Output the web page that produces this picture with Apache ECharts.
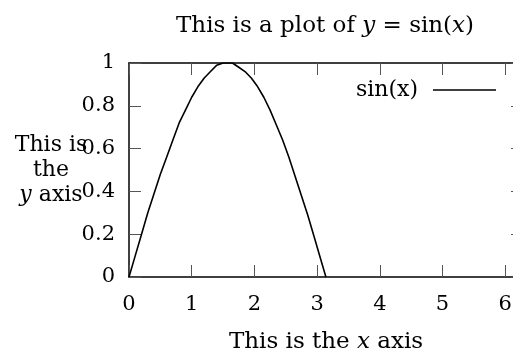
<!DOCTYPE html>
<html>
<head>
    <meta charset="utf-8">
    <title>ECharts</title>
    <script type="text/javascript" src="https://cdn.jsdelivr.net/npm/echarts@6/dist/echarts.min.js"></script>
    <style>
        html, body { margin: 0; padding: 0; background: #fff; }
    </style>
</head>
<body>
<div id="main" style="width: 513px;height:356px;"></div>
<script type="text/javascript">
    // values
    var xVals = [0, 0.1, 0.2, 0.3, 0.4, 0.5, 0.6, 0.7, 0.8, 0.9, 1.0, 1.1, 1.2, 1.3, 1.4, 1.5, 1.57,
                 1.65, 1.75, 1.85, 1.95, 2.05, 2.15, 2.25, 2.35, 2.45, 2.55, 2.65, 2.75, 2.85, 2.95, 3.05, 3.14];
    var yVals = [0, 0.1, 0.2, 0.3, 0.39, 0.48, 0.56, 0.64, 0.72, 0.78, 0.84, 0.89, 0.93, 0.96, 0.99, 1.0, 1.0,
                 1.0, 0.98, 0.96, 0.93, 0.89, 0.84, 0.78, 0.71, 0.64, 0.56, 0.47, 0.38, 0.29, 0.19, 0.09, 0.0];
    var xTicks = [0, 1, 2, 3, 4, 5, 6];
    var yTicks = [0, 0.2, 0.4, 0.6, 0.8, 1];
    var seriesName = 'sin(x)';

    var font = 'DejaVu Serif';
    var points = xVals.map(function (x, i) { return [x, yVals[i]]; });

    var myChart = echarts.init(document.getElementById('main'));

    var rich = {
        r: { fontFamily: font, fontSize: 22, color: '#000' },
        i: { fontFamily: font, fontSize: 22, fontStyle: 'italic', color: '#000' }
    };
    var richTitle = {
        r: { fontFamily: font, fontSize: 23, color: '#000' },
        i: { fontFamily: font, fontSize: 23, fontStyle: 'italic', color: '#000' }
    };

    var tickStyle = { show: true, inside: true, length: 12, lineStyle: { color: '#555', width: 1 } };
    var lineStyle = { show: true, onZero: false, lineStyle: { color: '#000', width: 1.5 } };

    var option = {
        animation: false,
        backgroundColor: '#fff',
        grid: { left: 129, right: -10, top: 63, bottom: 79, outerBoundsMode: 'none', containLabel: false },
        graphic: [{
            type: 'text',
            x: 325, y: 26,
            style: {
                text: '{r|This is a plot of }{i|y}{r| = sin(}{i|x}{r|)}',
                rich: richTitle,
                textAlign: 'center',
                textVerticalAlign: 'middle'
            }
        }],
        legend: {
            data: [seriesName],
            right: 17,
            top: 79,
            padding: 0,
            align: 'right',
            icon: 'rect',
            itemWidth: 63,
            itemHeight: 1.5,
            itemStyle: { color: '#000' },
            textStyle: { fontFamily: font, fontSize: 22, color: '#000', padding: [0, 10, 0, 0] }
        },
        xAxis: [{
            type: 'value',
            min: 0,
            max: 6.2832,
            interval: 1,
            splitLine: { show: false },
            axisLine: lineStyle,
            axisTick: tickStyle,
            axisLabel: {
                margin: 17,
                fontFamily: font, fontSize: 21, color: '#000',
                formatter: function (v) { return xTicks.indexOf(v) >= 0 ? String(v) : ''; }
            },
            name: '{r|This is the }{i|x}{r| axis}',
            nameLocation: 'middle',
            nameGap: 54,
            nameMoveOverlap: false,
            nameTextStyle: { rich: richTitle }
        }, {
            type: 'value',
            position: 'top',
            min: 0,
            max: 6.2832,
            interval: 1,
            splitLine: { show: false },
            axisLine: lineStyle,
            axisTick: tickStyle,
            axisLabel: { show: false }
        }],
        yAxis: [{
            type: 'value',
            min: 0,
            max: 1,
            interval: 0.2,
            splitLine: { show: false },
            axisLine: lineStyle,
            axisTick: tickStyle,
            axisLabel: {
                margin: 14,
                fontFamily: font, fontSize: 21, color: '#000',
                formatter: function (v) { return yTicks.indexOf(+v.toFixed(1)) >= 0 ? String(+v.toFixed(1)) : ''; }
            },
            name: '{r|This is}\n{r|the}\n{i|y}{r| axis}',
            nameLocation: 'middle',
            nameRotate: 0,
            nameGap: 78,
            nameMoveOverlap: false,
            nameTextStyle: { align: 'center', verticalAlign: 'middle', lineHeight: 25, rich: rich }
        }, {
            type: 'value',
            position: 'right',
            min: 0,
            max: 1,
            interval: 0.2,
            splitLine: { show: false },
            axisLine: lineStyle,
            axisTick: tickStyle,
            axisLabel: { show: false }
        }],
        series: [{
            name: seriesName,
            type: 'line',
            data: points,
            symbol: 'none',
            clip: true,
            lineStyle: { color: '#000', width: 1.6 },
            itemStyle: { color: '#000' }
        }]
    };

    myChart.setOption(option);
</script>
</body>
</html>
